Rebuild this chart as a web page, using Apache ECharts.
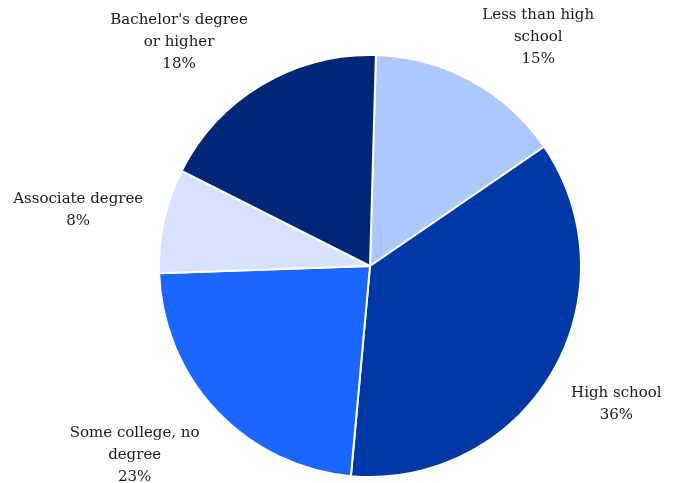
<!DOCTYPE html>
<html>
<head>
<meta charset="utf-8">
<script src="https://cdn.jsdelivr.net/npm/echarts@6/dist/echarts.min.js"></script>
<style>
  html, body { margin: 0; padding: 0; background: #ffffff; }
  #chart { width: 678px; height: 483px; }
</style>
</head>
<body>
<div id="chart"></div>
<script>
// Educational attainment shares, listed clockwise from the top
const categories = ["Less than high\nschool", "High school", "Some college, no\ndegree", "Associate degree", "Bachelor's degree\nor higher"];
const shares = [15, 36, 23, 8, 18];
const sliceColors = ["#adc8ff", "#0039a6", "#1a66ff", "#d6e2ff", "#002677"];

const CENTER = [370, 266];
const RADIUS = 211;
const START_ANGLE = 88.4;   // degrees, counter-clockwise from 3 o'clock
const LABEL_GAP = 14;
const SIDE_SHIFT = 7;

const total = shares.reduce((a, b) => a + b, 0);

// mid-angle of each slice, measured clockwise from 12 o'clock, in radians
function midAngle(idx) {
  let before = 0;
  for (let i = 0; i < idx; i++) before += shares[i];
  const startCw = 90 - START_ANGLE;
  const deg = startCw + (before + shares[idx] / 2) / total * 360;
  return deg * Math.PI / 180;
}

const clamp = v => Math.max(-1, Math.min(1, v));

const chart = echarts.init(document.getElementById('chart'), null, { renderer: 'canvas' });

chart.setOption({
  animation: false,
  backgroundColor: '#ffffff',
  series: [{
    type: 'pie',
    center: CENTER,
    radius: RADIUS,
    startAngle: START_ANGLE,
    clockwise: true,
    data: categories.map((name, i) => ({
      name: name,
      value: shares[i],
      itemStyle: { color: sliceColors[i] }
    })),
    itemStyle: { borderColor: '#ffffff', borderWidth: 2 },
    label: {
      show: true,
      position: 'outside',
      formatter: p => p.name + '\n' + p.value + '%',
      fontFamily: 'DejaVu Serif',
      fontSize: 15,
      lineHeight: 22,
      color: '#1a1a1a',
      align: 'center',
      overflow: 'none'
    },
    labelLine: { show: false },
    emphasis: { disabled: true },
    labelLayout: function (params) {
      const a = midAngle(params.dataIndex);
      const s = Math.sin(a), c = Math.cos(a);
      const w = params.labelRect.width, h = params.labelRect.height;
      const px = CENTER[0] + (RADIUS + LABEL_GAP) * s;
      const py = CENTER[1] - (RADIUS + LABEL_GAP) * c;
      return {
        x: px + w / 2 * clamp(2 * s) + SIDE_SHIFT * Math.sign(s),
        y: py - h / 2 * clamp(2 * c) + 2,
        align: 'center',
        verticalAlign: 'middle'
      };
    }
  }]
});
</script>
</body>
</html>
